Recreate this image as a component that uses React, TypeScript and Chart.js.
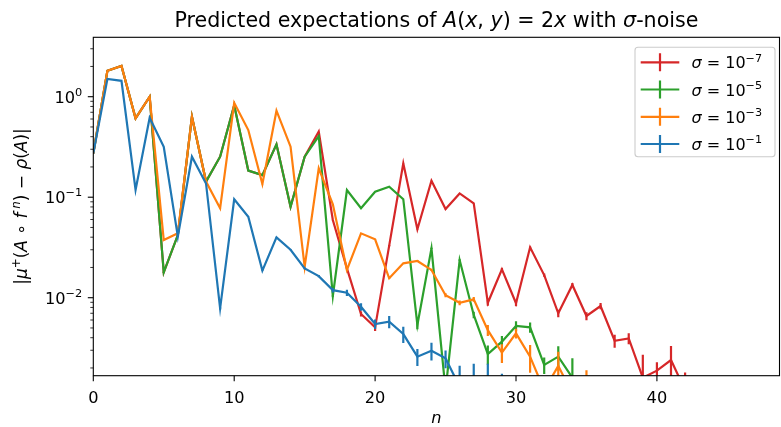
import React, { useEffect, useRef } from "react";
import { Chart, registerables } from "chart.js";

Chart.register(...registerables);

// ---- data (n = 0, 1, 2, ...) ----
const RED_VALUES = [0.273, 1.81, 2.02, 0.61, 1.0, 0.0179, 0.042, 0.632, 0.143, 0.253, 0.82, 0.184, 0.166, 0.336, 0.0804, 0.253, 0.449, 0.0593, 0.0196, 0.00689, 0.00507, 0.033, 0.217, 0.048, 0.146, 0.0763, 0.109, 0.0869, 0.0089, 0.0192, 0.0088, 0.0317, 0.0168, 0.007, 0.0134, 0.00658, 0.00827, 0.00373, 0.00394, 0.0016, 0.00188, 0.0024, 0.0012];
const RED_ERRORS = [0.0002, 0.0002, 0.0002, 0.0002, 0.0002, 0.0002, 0.0002, 0.0002, 0.0002, 0.0002, 0.0002, 0.0002, 0.0002, 0.0002, 0.0002, 0.0002, 0.0002, 0.0004, 0.0004, 0.0004, 0.0004, 0.0004, 0.0004, 0.0004, 0.0004, 0.0004, 0.0004, 0.0004, 0.0006, 0.0006, 0.0006, 0.0006, 0.0006, 0.0006, 0.0006, 0.0006, 0.0006, 0.00055, 0.0005, 0.0011, 0.0004, 0.0009, 0.0006];

const GREEN_VALUES = [0.273, 1.81, 2.02, 0.61, 1.0, 0.0179, 0.042, 0.632, 0.143, 0.253, 0.82, 0.184, 0.166, 0.336, 0.0804, 0.253, 0.406, 0.0104, 0.118, 0.0776, 0.1135, 0.127, 0.0955, 0.00536, 0.031, 0.0012, 0.0237, 0.00673, 0.00275, 0.00365, 0.00523, 0.00507, 0.00214, 0.00259, 0.0016, 0.0008];
const GREEN_ERRORS = [0.0002, 0.0002, 0.0002, 0.0002, 0.0002, 0.0002, 0.0002, 0.0002, 0.0002, 0.0002, 0.0002, 0.0002, 0.0002, 0.0002, 0.0002, 0.0002, 0.0002, 0.0002, 0.0002, 0.0002, 0.0002, 0.0002, 0.0002, 0.0005, 0.0005, 0.0005, 0.0005, 0.0005, 0.0006, 0.0005, 0.0006, 0.0006, 0.0004, 0.0007, 0.0009, 0.0003];

const ORANGE_VALUES = [0.273, 1.81, 2.02, 0.61, 1.0, 0.0375, 0.0437, 0.632, 0.143, 0.0776, 0.87, 0.466, 0.135, 0.726, 0.318, 0.0203, 0.194, 0.085, 0.0189, 0.0437, 0.0381, 0.0156, 0.022, 0.0232, 0.0189, 0.0106, 0.0089, 0.00964, 0.00476, 0.00284, 0.00442, 0.00259, 0.0012, 0.0021, 0.0011, 0.0012, 0.0007];
const ORANGE_ERRORS = [0.0002, 0.0002, 0.0002, 0.0002, 0.0002, 0.0002, 0.0002, 0.0002, 0.0002, 0.0002, 0.0002, 0.0002, 0.0002, 0.0002, 0.0002, 0.0002, 0.0002, 0.0002, 0.0002, 0.0002, 0.0002, 0.0002, 0.0002, 0.0005, 0.0005, 0.0005, 0.0005, 0.0005, 0.0006, 0.0006, 0.0005, 0.0008, 0.0004, 0.0008, 0.0004, 0.0007, 0.0003];

const BLUE_VALUES = [0.273, 1.5, 1.44, 0.118, 0.618, 0.318, 0.0405, 0.253, 0.137, 0.00784, 0.0953, 0.064, 0.0186, 0.0399, 0.03, 0.0196, 0.0164, 0.0119, 0.0112, 0.00813, 0.00547, 0.00577, 0.00435, 0.00259, 0.00297, 0.00249, 0.0013, 0.0011, 0.0012, 0.0009, 0.0006];
const BLUE_ERRORS = [0.0002, 0.0002, 0.0002, 0.0002, 0.0002, 0.0002, 0.0002, 0.0002, 0.0002, 0.0002, 0.0002, 0.0002, 0.0002, 0.0002, 0.0004, 0.0004, 0.0004, 0.0006, 0.0008, 0.0007, 0.0006, 0.0008, 0.0008, 0.0005, 0.0006, 0.0005, 0.0008, 0.0011, 0.001, 0.00085, 0.0003];

const SERIES_LABELS = ["-7", "-5", "-3", "-1"];
const SERIES_COLORS = ["#d62728", "#2ca02c", "#ff7f0e", "#1f77b4"];
const SERIES_VALUES = [RED_VALUES, GREEN_VALUES, ORANGE_VALUES, BLUE_VALUES];
const SERIES_ERRORS = [RED_ERRORS, GREEN_ERRORS, ORANGE_ERRORS, BLUE_ERRORS];

const X_TICKS = [0, 10, 20, 30, 40];
const Y_MAJOR_TICKS = [1, 0.1, 0.01];
const Y_MAJOR_EXPONENTS = ["0", "\u22121", "\u22122"];
const X_MIN = 0;
const X_MAX = 48.7;
const Y_MIN = 0.001675;
const Y_MAX = 3.9;

const FONT = '"DejaVu Sans", sans-serif';
const LINE_W = 2.2;

type Seg = { t: string; it?: boolean; sup?: boolean };

function segFont(s: Seg, size: number) {
  const fs = s.sup ? size * 0.7 : size;
  return `${s.it ? "italic " : ""}${fs}px ${FONT}`;
}

function richWidth(ctx: CanvasRenderingContext2D, segs: Seg[], size: number) {
  let w = 0;
  for (const s of segs) {
    ctx.font = segFont(s, size);
    w += ctx.measureText(s.t).width;
  }
  return w;
}

function drawRich(ctx: CanvasRenderingContext2D, segs: Seg[], x: number, y: number, size: number, align: "left" | "center" | "right") {
  const total = richWidth(ctx, segs, size);
  let cx = align === "center" ? x - total / 2 : align === "right" ? x - total : x;
  ctx.textAlign = "left";
  ctx.textBaseline = "alphabetic";
  for (const s of segs) {
    ctx.font = segFont(s, size);
    const w = ctx.measureText(s.t).width;
    ctx.fillText(s.t, cx, y + (s.sup ? -size * 0.42 : 0));
    cx += w;
  }
}

const TITLE_SEGS: Seg[] = [
  { t: "Predicted expectations of " },
  { t: "A", it: true },
  { t: "(" },
  { t: "x", it: true },
  { t: ", " },
  { t: "y", it: true },
  { t: ") = 2" },
  { t: "x", it: true },
  { t: " with " },
  { t: "\u03c3", it: true },
  { t: "-noise" },
];

const YLABEL_SEGS: Seg[] = [
  { t: "|" },
  { t: "\u03bc", it: true },
  { t: "+", sup: true },
  { t: "(" },
  { t: "A", it: true },
  { t: " \u2218 " },
  { t: "f", it: true },
  { t: " ", sup: true },
  { t: "n", it: true, sup: true },
  { t: ") \u2212 " },
  { t: "\u03c1", it: true },
  { t: "(" },
  { t: "A", it: true },
  { t: ")|" },
];

const decorPlugin = {
  id: "decor",
  beforeDraw(chart: any) {
    const ctx = chart.ctx as CanvasRenderingContext2D;
    ctx.save();
    ctx.fillStyle = "#ffffff";
    ctx.fillRect(0, 0, chart.width, chart.height);
    ctx.restore();
  },
  afterDatasetDraw(chart: any, args: any) {
    const ctx = chart.ctx as CanvasRenderingContext2D;
    const idx = args.index;
    const meta = args.meta;
    const ys = chart.scales.y;
    const area = chart.chartArea;
    const vals = SERIES_VALUES[idx];
    const errs = SERIES_ERRORS[idx];
    ctx.save();
    ctx.beginPath();
    ctx.rect(area.left, area.top, area.right - area.left, area.bottom - area.top);
    ctx.clip();
    ctx.strokeStyle = SERIES_COLORS[idx];
    ctx.lineWidth = LINE_W;
    for (let i = 0; i < vals.length; i++) {
      const el = meta.data[i];
      if (!el) continue;
      const hi = vals[i] + errs[i];
      const lo = vals[i] - errs[i];
      const yHi = ys.getPixelForValue(hi);
      const yLo = lo > 0 ? ys.getPixelForValue(lo) : area.bottom + 10;
      ctx.beginPath();
      ctx.moveTo(el.x, yHi);
      ctx.lineTo(el.x, yLo);
      ctx.stroke();
    }
    ctx.restore();
  },
  afterDraw(chart: any) {
    const ctx = chart.ctx as CanvasRenderingContext2D;
    const area = chart.chartArea;
    const xs = chart.scales.x;
    const ys = chart.scales.y;
    ctx.save();
    ctx.fillStyle = "#000000";
    ctx.strokeStyle = "#000000";

    // frame
    ctx.lineWidth = 1.1;
    ctx.strokeRect(area.left, area.top, area.right - area.left, area.bottom - area.top);

    // x ticks and labels
    const tickSize = 16.2;
    for (const v of X_TICKS) {
      const px = xs.getPixelForValue(v);
      ctx.lineWidth = 1.1;
      ctx.beginPath();
      ctx.moveTo(px, area.bottom);
      ctx.lineTo(px, area.bottom + 5.5);
      ctx.stroke();
      ctx.font = `${tickSize}px ${FONT}`;
      ctx.textAlign = "center";
      ctx.textBaseline = "alphabetic";
      ctx.fillText(String(v), px, 403);
    }

    // y major ticks & labels
    for (let k = 0; k < Y_MAJOR_TICKS.length; k++) {
      const py = ys.getPixelForValue(Y_MAJOR_TICKS[k]);
      ctx.lineWidth = 1.1;
      ctx.beginPath();
      ctx.moveTo(area.left, py);
      ctx.lineTo(area.left - 5.5, py);
      ctx.stroke();
      drawRich(ctx, [{ t: "10" }, { t: Y_MAJOR_EXPONENTS[k], sup: true }], area.left - 11, py + 6, tickSize, "right");
    }
    // y minor ticks
    ctx.lineWidth = 0.8;
    for (let e = -3; e <= 0; e++) {
      for (let m = 2; m <= 9; m++) {
        const v = m * Math.pow(10, e);
        if (v < Y_MIN || v > Y_MAX) continue;
        const py = ys.getPixelForValue(v);
        ctx.beginPath();
        ctx.moveTo(area.left, py);
        ctx.lineTo(area.left - 3, py);
        ctx.stroke();
      }
    }

    // title
    drawRich(ctx, TITLE_SEGS, (area.left + area.right) / 2, 27, 20.6, "center");

    // x label
    drawRich(ctx, [{ t: "n", it: true }], (area.left + area.right) / 2, 423, tickSize, "center");

    // y label (rotated)
    ctx.save();
    ctx.translate(27, (area.top + area.bottom) / 2);
    ctx.rotate(-Math.PI / 2);
    drawRich(ctx, YLABEL_SEGS, 0, 0, 17, "center");
    ctx.restore();

    // legend
    const lx = 635, ly = 47.3, lw = 140, lh = 109.5, r = 3;
    ctx.fillStyle = "rgba(255,255,255,0.8)";
    ctx.strokeStyle = "#cccccc";
    ctx.lineWidth = 1.1;
    ctx.beginPath();
    ctx.moveTo(lx + r, ly);
    ctx.lineTo(lx + lw - r, ly);
    ctx.arcTo(lx + lw, ly, lx + lw, ly + r, r);
    ctx.lineTo(lx + lw, ly + lh - r);
    ctx.arcTo(lx + lw, ly + lh, lx + lw - r, ly + lh, r);
    ctx.lineTo(lx + r, ly + lh);
    ctx.arcTo(lx, ly + lh, lx, ly + lh - r, r);
    ctx.lineTo(lx, ly + r);
    ctx.arcTo(lx, ly, lx + r, ly, r);
    ctx.closePath();
    ctx.fill();
    ctx.stroke();

    const rowY = [62.3, 89.5, 116.8, 144];
    for (let k = 0; k < SERIES_LABELS.length; k++) {
      const cy = rowY[k];
      ctx.strokeStyle = SERIES_COLORS[k];
      ctx.lineWidth = LINE_W;
      ctx.beginPath();
      ctx.moveTo(640.7, cy);
      ctx.lineTo(679.3, cy);
      ctx.moveTo(660, cy - 9);
      ctx.lineTo(660, cy + 9);
      ctx.stroke();
      ctx.fillStyle = "#000000";
      drawRich(
        ctx,
        [{ t: "\u03c3", it: true }, { t: " = 10" }, { t: SERIES_LABELS[k].replace("-", "\u2212"), sup: true }],
        691.5,
        cy + 6,
        16,
        "left"
      );
    }
    ctx.restore();
  },
};

export default function App() {
  const canvasRef = useRef<HTMLCanvasElement | null>(null);

  useEffect(() => {
    const canvas = canvasRef.current;
    if (!canvas) return;
    const order = [3, 2, 1, 0];
    const datasets = SERIES_VALUES.map((vals, k) => ({
      label: "sigma 10^" + SERIES_LABELS[k],
      data: vals.map((v, i) => ({ x: i, y: v })),
      borderColor: SERIES_COLORS[k],
      backgroundColor: SERIES_COLORS[k],
      borderWidth: LINE_W,
      pointRadius: 0,
      tension: 0,
      fill: false,
      clip: 0,
      order: order[k],
    }));
    const chart = new Chart(canvas, {
      type: "line",
      data: { datasets },
      options: {
        animation: false,
        responsive: false,
        devicePixelRatio: 1,
        layout: { padding: { left: 93.3, right: 1.5, top: 37.3, bottom: 51.3 } },
        scales: {
          x: { type: "linear", min: X_MIN, max: X_MAX, display: false },
          y: { type: "logarithmic", min: Y_MIN, max: Y_MAX, display: false },
        },
        plugins: {
          legend: { display: false },
          title: { display: false },
          tooltip: { enabled: false },
        },
      },
      plugins: [decorPlugin],
    } as any);
    return () => chart.destroy();
  }, []);

  return (
    <div style={{ position: "fixed", left: 0, top: 0, width: 781, height: 427, background: "#fff" }}>
      <canvas ref={canvasRef} width={781} height={427} style={{ display: "block", width: 781, height: 427 }} />
    </div>
  );
}
